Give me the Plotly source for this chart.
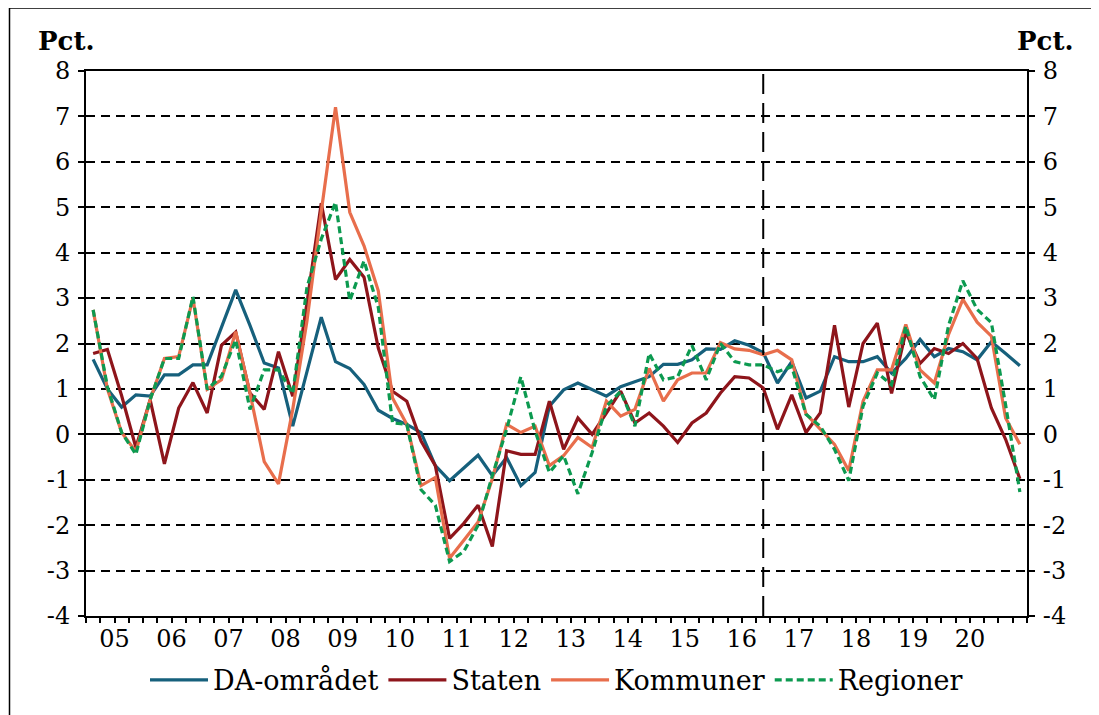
import plotly.graph_objects as go

# ---------------- data ----------------
years = ["05", "06", "07", "08", "09", "10", "11", "12", "13", "14", "15", "16", "17", "18", "19", "20"]
quarters = [f"20{y}K{q}" for y in years for q in range(1, 5)] + ["2021K1", "2021K2"]

da_omraadet = [1.65, 1.0, 0.6, 0.87, 0.84, 1.31, 1.31, 1.53, 1.53, 2.35,
               3.18, 2.4, 1.57, 1.46, 0.18, 1.38, 2.58, 1.6, 1.45, 1.1,
               0.53, 0.35, 0.22, 0.04, -0.69, -1.02, -0.73, -0.46, -0.91, -0.51,
               -1.13, -0.84, 0.62, 0.98, 1.13, 0.98, 0.84, 1.05, 1.16, 1.27,
               1.54, 1.54, 1.64, 1.88, 1.87, 2.06, 1.96, 1.8, 1.13, 1.6,
               0.8, 0.95, 1.71, 1.6, 1.6, 1.71, 1.35, 1.67, 2.09, 1.71,
               1.89, 1.82, 1.64, 2.04, 1.78, 1.51]

staten = [1.78, 1.87, 0.85, -0.29, 0.76, -0.65, 0.58, 1.14, 0.47, 1.96,
          2.25, 0.91, 0.55, 1.82, 0.84, 2.9, 5.09, 3.41, 3.85, 3.46,
          1.9, 0.95, 0.73, -0.15, -0.69, -2.29, -1.96, -1.56, -2.47, -0.36,
          -0.44, -0.44, 0.73, -0.33, 0.36, 0.0, 0.47, 0.95, 0.25, 0.47,
          0.18, -0.18, 0.25, 0.47, 0.91, 1.27, 1.24, 1.02, 0.11, 0.87,
          0.04, 0.47, 2.4, 0.6, 2.0, 2.45, 0.9, 2.25, 1.56, 1.89,
          1.78, 2.0, 1.67, 0.58, -0.11, -0.98]

kommuner = [2.74, 1.0, 0.04, -0.38, 0.76, 1.67, 1.71, 3.0, 0.99, 1.2,
            2.26, 0.91, -0.6, -1.09, 0.55, 2.5, 4.9, 7.2, 4.89, 4.15,
            3.16, 0.8, 0.22, -1.13, -0.95, -2.73, -2.33, -1.93, -0.98, 0.22,
            0.04, 0.18, -0.69, -0.47, -0.07, -0.29, 0.73, 0.4, 0.55, 1.45,
            0.73, 1.2, 1.35, 1.35, 2.02, 1.88, 1.85, 1.75, 1.85, 1.64,
            0.45, 0.12, -0.22, -0.8, 0.73, 1.42, 1.42, 2.42, 1.42, 1.13,
            2.2, 2.97, 2.47, 2.16, 0.36, -0.22]

regioner = [2.74, 1.05, 0.04, -0.44, 0.76, 1.67, 1.67, 3.03, 0.99, 1.28,
            2.08, 0.55, 1.42, 1.42, 0.9, 3.24, 4.3, 5.11, 2.94, 3.82,
            2.8, 0.25, 0.22, -1.22, -1.56, -2.8, -2.58, -2.0, -0.91, 0.11,
            1.27, 0.07, -0.84, -0.47, -1.31, -0.4, 0.62, 0.95, 0.18, 1.78,
            1.2, 1.27, 1.96, 1.2, 2.0, 1.6, 1.53, 1.53, 1.38, 1.49,
            0.44, 0.18, -0.33, -1.02, 0.62, 1.35, 1.09, 2.38, 1.27, 0.76,
            2.4, 3.38, 2.75, 2.46, 0.65, -1.27]

y_ticks = [8, 7, 6, 5, 4, 3, 2, 1, 0, -1, -2, -3, -4]
break_quarter = "2016K4"

# ---------------- figure ----------------
xpos = list(range(len(quarters)))
n = len(quarters)
FONT = "DejaVu Serif"

series = [
    ("DA-området", da_omraadet, "#16607C", "solid"),
    ("Staten", staten, "#8E151B", "solid"),
    ("Kommuner", kommuner, "#E86E4C", "solid"),
    ("Regioner", regioner, "#0C9A50", "dash"),
]

fig = go.Figure()
for name, vals, col, dash in series:
    fig.add_trace(go.Scatter(
        x=xpos, y=vals, name=name, mode="lines",
        line=dict(color=col, width=3.2, dash=("7px,4px" if dash == "dash" else "solid")),
    ))

# invisible helper trace for the secondary axes (right y-axis and year labels)
fig.add_trace(go.Scatter(x=xpos, y=da_omraadet, xaxis="x2", yaxis="y2",
                         mode="lines", line=dict(width=0), opacity=0,
                         showlegend=False, hoverinfo="skip"))

xr = [-0.5, n - 0.5]
yr = [min(y_ticks), max(y_ticks)]
year_bounds = [-0.5 + 4 * k for k in range(len(years) + 1)]
year_centers = [1.5 + 4 * k for k in range(len(years))]

# page body has an 8px margin, so the figure origin sits at (8, 8)
L, T = 78, 63
PW, PH = 941, 545

fig.update_layout(
    width=1099, height=715,
    margin=dict(l=L, r=1099 - L - PW, t=T, b=715 - T - PH),
    paper_bgcolor="white", plot_bgcolor="white",
    font=dict(family=FONT, color="black", size=23),
    showlegend=True,
    legend=dict(orientation="h", x=0.5, xanchor="center", y=-0.118, yanchor="middle",
                font=dict(family=FONT, size=27, color="black"),
                bgcolor="rgba(0,0,0,0)", itemwidth=58, traceorder="normal"),
    xaxis=dict(
        range=xr, showgrid=False, zeroline=False,
        showline=True, linecolor="black", linewidth=2, mirror=True,
        tickmode="array", tickvals=year_bounds, ticktext=[""] * len(year_bounds),
        ticks="outside", ticklen=9, tickwidth=1.5, tickcolor="black",
        minor=dict(tickmode="linear", tick0=-0.5, dtick=1, ticks="outside",
                   ticklen=5, tickwidth=1.5, tickcolor="black", showgrid=False),
        showticklabels=False,
    ),
    xaxis2=dict(
        range=xr, overlaying="x", side="bottom", anchor="y",
        showgrid=False, zeroline=False, showline=False,
        tickmode="array", tickvals=year_centers, ticktext=years,
        ticks="", ticklabelstandoff=6,
        tickfont=dict(family=FONT, size=24, color="black"),
    ),
    yaxis=dict(
        range=yr, tickmode="array", tickvals=y_ticks,
        ticktext=[str(v) for v in y_ticks],
        showgrid=True, gridcolor="black", gridwidth=2, griddash="9px,6px",
        zeroline=True, zerolinecolor="black", zerolinewidth=2,
        showline=True, linecolor="black", linewidth=2,
        ticks="outside", ticklen=6, tickwidth=1.5, tickcolor="black",
        tickfont=dict(family=FONT, size=24, color="black"),
        ticklabelstandoff=3,
    ),
    yaxis2=dict(
        range=yr, overlaying="y", side="right", anchor="x",
        tickmode="array", tickvals=y_ticks, ticktext=[str(v) for v in y_ticks],
        showgrid=False, zeroline=False,
        showline=True, linecolor="black", linewidth=2,
        ticks="outside", ticklen=6, tickwidth=1.5, tickcolor="black",
        tickfont=dict(family=FONT, size=24, color="black"),
        ticklabelstandoff=3,
    ),
)

# vertical break line
bx = quarters.index(break_quarter)
fig.add_shape(type="line", xref="x", yref="y", x0=bx, x1=bx, y0=yr[0], y1=yr[1],
              line=dict(color="black", width=2, dash="20px,9px"), layer="above")

# outer frame (left and top edges visible); screen coords -> paper coords
def px_to_paper_x(px):
    return (px - 8 - L) / PW

def py_to_paper_y(py):
    return (8 + T + PH - py) / PH

FX = 9.5
fig.add_shape(type="line", xref="paper", yref="paper",
              x0=px_to_paper_x(FX), x1=px_to_paper_x(FX), y0=py_to_paper_y(8), y1=py_to_paper_y(760),
              line=dict(color="black", width=1.5))
fig.add_shape(type="line", xref="paper", yref="paper",
              x0=px_to_paper_x(FX), x1=px_to_paper_x(1150), y0=py_to_paper_y(8), y1=py_to_paper_y(8),
              line=dict(color="black", width=1.5))

# "Pct." unit labels
for xs in [66, 1045]:
    fig.add_annotation(text="<b>Pct.</b>", xref="paper", yref="paper",
                       x=px_to_paper_x(xs), y=py_to_paper_y(41), xanchor="center", yanchor="middle",
                       showarrow=False, font=dict(family=FONT, size=26, color="black"))

fig.write_html("out.html")
